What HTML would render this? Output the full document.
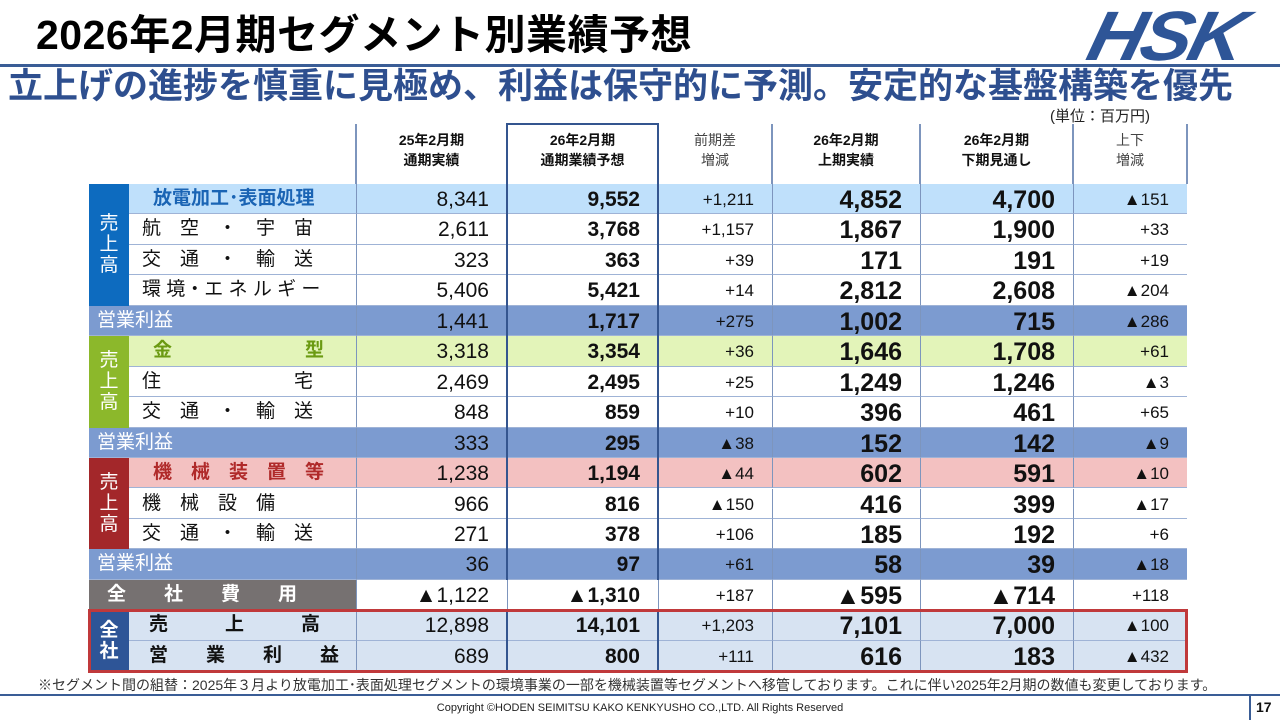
<!DOCTYPE html>
<html><head><meta charset="utf-8">
<style>
body{margin:0;width:1280px;height:720px;overflow:hidden;background:#fff;position:relative;font-family:"Liberation Sans","Noto Sans CJK JP",sans-serif;}
.a{position:absolute;box-sizing:border-box;}
.num{text-align:right;white-space:nowrap;color:#111;}
</style></head><body>
<div class="a" style="left:36px;top:8px;font-size:41px;font-weight:bold;color:#000;line-height:54px;white-space:nowrap;letter-spacing:0.5px;">2026年2月期セグメント別業績予想</div>
<div class="a" style="left:1098px;top:4px;font-size:70px;font-weight:900;font-style:italic;color:#2e5597;letter-spacing:-3px;line-height:64px;transform:skewX(-14deg) scaleX(1.1);transform-origin:left top;">HSK</div>
<div class="a" style="left:0;top:64px;width:1280px;height:3px;background:#3a5d96;"></div>
<div class="a" style="left:8px;top:65px;font-size:35px;font-weight:bold;color:#2e4f8f;line-height:44px;white-space:nowrap;">立上げの進捗を慎重に見極め、利益は保守的に予測。安定的な基盤構築を優先</div>
<div class="a" style="left:1050px;top:105px;font-size:15px;color:#222;">(単位：百万円)</div>
<div id="tbl"></div>
<div class="a" style="left:38px;top:675px;font-size:14px;color:#333;white-space:nowrap;">※セグメント間の組替：2025年３月より放電加工･表面処理セグメントの環境事業の一部を機械装置等セグメントへ移管しております。これに伴い2025年2月期の数値も変更しております。</div>
<div class="a" style="left:0;top:694px;width:1280px;height:2px;background:#3a5d96;"></div>
<div class="a" style="left:1249px;top:695px;width:2px;height:25px;background:#3a5d96;"></div>
<div class="a" style="left:0;width:1280px;top:702px;text-align:center;font-size:11px;color:#222;">Copyright ©HODEN SEIMITSU KAKO KENKYUSHO CO.,LTD. All Rights Reserved</div>
<div class="a" style="left:1256px;top:699px;font-size:14px;font-weight:bold;color:#111;">17</div>
<script>
const headers=[["25年2月期","通期実績",true],["26年2月期","通期業績予想",true],["前期差","増減",false],["26年2月期","上期実績",true],["26年2月期","下期見通し",true],["上下","増減",false]];
const labels=["放電加工･表面処理","航　空　・　宇　宙","交　通　・　輸　送","環 境・エ ネ ル ギ ー","営業利益","金　　　　　　　型","住　　　　　　　宅","交　通　・　輸　送","営業利益","機　械　装　置　等","機　械　設　備","交　通　・　輸　送","営業利益","全　　社　　費　　用","売　　　上　　　高","営　　業　　利　　益"];
const colPrev=["8,341","2,611","323","5,406","1,441","3,318","2,469","848","333","1,238","966","271","36","▲1,122","12,898","689"];
const colPlan=["9,552","3,768","363","5,421","1,717","3,354","2,495","859","295","1,194","816","378","97","▲1,310","14,101","800"];
const colDiff=["+1,211","+1,157","+39","+14","+275","+36","+25","+10","▲38","▲44","▲150","+106","+61","+187","+1,203","+111"];
const colH1=["4,852","1,867","171","2,812","1,002","1,646","1,249","396","152","602","416","185","58","▲595","7,101","616"];
const colH2=["4,700","1,900","191","2,608","715","1,708","1,246","461","142","591","399","192","39","▲714","7,000","183"];
const colHH=["▲151","+33","+19","▲204","▲286","+61","▲3","+65","▲9","▲10","▲17","+6","▲18","+118","▲100","▲432"];
const kinds=["h1","n","n","n","op","h2","n","n","op","h3","n","n","op","corp","tot","tot"];
const colsX=[356,507,658,772,920,1073,1187];
const top0=184, rowH=30.45;
const bg={h1:"#bfe0fb",h2:"#e3f4b9",h3:"#f3c1c1",n:"#fff",op:"#7c9bd0",corp:"#fff",tot:"#d7e3f2"};
const T=document.getElementById('tbl');
function mk(css,txt){const d=document.createElement('div');d.className='a';d.style.cssText=css;if(txt!==undefined)d.textContent=txt;T.appendChild(d);return d;}
headers.forEach((h,i)=>{const x=colsX[i],w=colsX[i+1]-x;
 const e=mk(`left:${x}px;top:130px;width:${w}px;height:50px;text-align:center;font-size:14px;line-height:20px;font-weight:${h[2]?'bold':'normal'};color:${h[2]?'#111':'#444'};`);
 e.innerHTML=h[0]+'<br>'+h[1];
 
 
});
[356,658,772,920,1073,1187].forEach(x=>{const l=mk(`left:${x-1}px;top:124px;width:2px;height:60px;background:#7d95bd;`);});
labels.forEach((lab,r)=>{
 const y=top0+r*rowH,k=kinds[r];
 const full=(k==='op'||k==='corp');
 const lx=full?89:129;
 let lcss=`left:${lx}px;top:${y}px;width:${356-lx}px;height:${rowH}px;line-height:${rowH}px;font-size:19px;white-space:nowrap;border-bottom:1px solid #9fb3d6;`;
 let lbg=bg[k],lcol='#111',lw='normal',pad='padding-left:13px;';
 if(k==='op'){lcol='#fff';pad='padding-left:8px;';}
 if(k==='corp'){lbg='#767171';lcol='#fff';lw='bold';pad='padding-left:18px;';}
 if(k==='h1'){lcol='#1a64b4';lw='bold';pad='padding-left:24px;';}
 if(k==='h2'){lcol='#6b9a12';lw='bold';pad='padding-left:24px;';}
 if(k==='h3'){lcol='#b02a2a';lw='bold';pad='padding-left:24px;';}
 if(k==='tot'){lw='bold';pad='padding-left:20px;';}
 const le=mk(lcss+`background:${lbg};color:${lcol};font-weight:${lw};${pad}`,lab);
 
 
 const cols=[colPrev,colPlan,colDiff,colH1,colH2,colHH];
 cols.forEach((arr,c)=>{
  const x=colsX[c],w=colsX[c+1]-x;
  let fs=[21,21,17,25,25,17][c],fw=[0,1,0,1,1,0][c]?'bold':'normal';
  const cbg=(k==='corp')?'#fff':bg[k];
  const e=mk(`left:${x}px;top:${y}px;width:${w}px;height:${rowH}px;line-height:${rowH+2}px;padding-right:18px;font-size:${fs}px;font-weight:${fw};background:${cbg};border-bottom:1px solid #9fb3d6;border-left:1px solid #7d95bd;`,arr[r]);
  e.classList.add('num');
  
  
 });
});
const groups=[[0,4,"#0d6bbf","売<br>上<br>高"],[5,3,"#8cb82b","売<br>上<br>高"],[9,3,"#a3272a","売<br>上<br>高"],[14,2,"#2e5597","全<br>社"]];
groups.forEach((g,i)=>{const y=top0+g[0]*rowH,h=g[1]*rowH;
 const e=mk(`left:89px;top:${y}px;width:40px;height:${h}px;background:${g[2]};color:#fff;font-size:19px;line-height:21px;text-align:center;display:flex;align-items:center;justify-content:center;font-weight:${i==3?'bold':'normal'};`);
 e.innerHTML=g[3];
 
 
});
const pb=mk(`left:506px;top:123px;width:153px;height:${top0+13*rowH-123}px;border:2px solid #34558f;border-bottom:none;`);


const pb2=mk(`left:506px;top:${top0+14*rowH}px;width:153px;height:${2*rowH}px;border-left:2px solid #34558f;border-right:2px solid #34558f;`);


const rb=mk(`left:88px;top:${top0+14*rowH-1}px;width:1100px;height:${2*rowH+3}px;border:3px solid #c0393b;`);


</script>
</body></html>
